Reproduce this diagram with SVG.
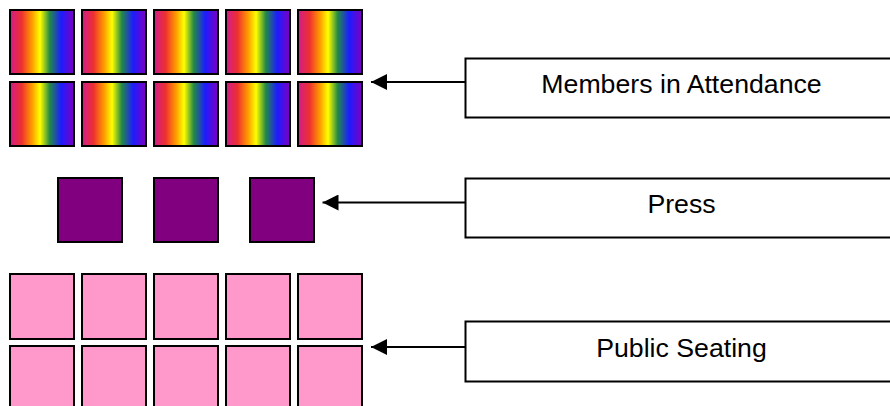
<svg xmlns="http://www.w3.org/2000/svg" width="890" height="406" viewBox="0 0 890 406">
<defs>
<linearGradient id="rainbow" x1="0" y1="0" x2="1" y2="0">
<stop offset="0" stop-color="#d01c8b"/>
<stop offset="0.18" stop-color="#ee3030"/>
<stop offset="0.34" stop-color="#ff9900"/>
<stop offset="0.47" stop-color="#ffff00"/>
<stop offset="0.62" stop-color="#238b45"/>
<stop offset="0.8" stop-color="#1c1cff"/>
<stop offset="1" stop-color="#7f00bf"/>
</linearGradient>
<marker id="arrow" viewBox="0 0 16 16" refX="16" refY="8" markerWidth="16" markerHeight="16" markerUnits="userSpaceOnUse" orient="auto">
<path d="M0,0 L16,8 L0,16 z" fill="#000"/>
</marker>
</defs>
<style>
.seat{stroke:#000;stroke-width:2}
.member{fill:url(#rainbow)}
.press{fill:#800080}
.public{fill:#ff99cc}
.label{fill:#fff;stroke:#000;stroke-width:2}
.txt{font-family:"Liberation Sans",Arial,sans-serif;font-size:26.7px;fill:#000;text-anchor:middle}
.conn{stroke:#000;stroke-width:2;fill:none}
</style>
<g id="members-seats">
<rect class="seat member" x="10" y="10" width="64" height="64"/>
<rect class="seat member" x="82" y="10" width="64" height="64"/>
<rect class="seat member" x="154" y="10" width="64" height="64"/>
<rect class="seat member" x="226" y="10" width="64" height="64"/>
<rect class="seat member" x="298" y="10" width="64" height="64"/>
<rect class="seat member" x="10" y="82" width="64" height="64"/>
<rect class="seat member" x="82" y="82" width="64" height="64"/>
<rect class="seat member" x="154" y="82" width="64" height="64"/>
<rect class="seat member" x="226" y="82" width="64" height="64"/>
<rect class="seat member" x="298" y="82" width="64" height="64"/>
</g>
<g id="press-seats">
<rect class="seat press" x="58" y="178" width="64" height="64"/>
<rect class="seat press" x="154" y="178" width="64" height="64"/>
<rect class="seat press" x="250" y="178" width="64" height="64"/>
</g>
<g id="public-seats">
<rect class="seat public" x="10" y="274" width="64" height="65"/>
<rect class="seat public" x="82" y="274" width="64" height="65"/>
<rect class="seat public" x="154" y="274" width="64" height="65"/>
<rect class="seat public" x="226" y="274" width="64" height="65"/>
<rect class="seat public" x="298" y="274" width="64" height="65"/>
<rect class="seat public" x="10" y="346" width="64" height="65"/>
<rect class="seat public" x="82" y="346" width="64" height="65"/>
<rect class="seat public" x="154" y="346" width="64" height="65"/>
<rect class="seat public" x="226" y="346" width="64" height="65"/>
<rect class="seat public" x="298" y="346" width="64" height="65"/>
</g>
<g id="connectors">
<line class="conn" x1="466" y1="82" x2="371" y2="82" marker-end="url(#arrow)"/>
<line class="conn" x1="466" y1="202.5" x2="322.5" y2="202.5" marker-end="url(#arrow)"/>
<line class="conn" x1="466" y1="347" x2="371" y2="347" marker-end="url(#arrow)"/>
</g>
<g id="label-members">
<rect class="label" x="465.5" y="58.5" width="440" height="59"/>
<text class="txt" x="681.5" y="93">Members in Attendance</text>
</g>
<g id="label-press">
<rect class="label" x="465.5" y="178.5" width="440" height="59"/>
<text class="txt" x="681.5" y="212.7">Press</text>
</g>
<g id="label-public">
<rect class="label" x="465.5" y="321.5" width="440" height="60"/>
<text class="txt" x="681.5" y="356.7">Public Seating</text>
</g>
</svg>
